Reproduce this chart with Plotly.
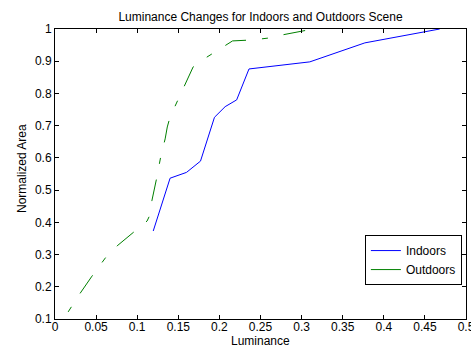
import plotly.graph_objects as go

# Indoors series
indoor_x = [0.1195, 0.140, 0.160, 0.177, 0.194, 0.207, 0.221, 0.236, 0.310, 0.377, 0.468]
indoor_y = [0.373, 0.537, 0.555, 0.590, 0.726, 0.759, 0.780, 0.876, 0.898, 0.957, 1.0]

# Outdoors series
outdoor_x = [0.016, 0.029, 0.045, 0.062, 0.0756, 0.0976, 0.112, 0.1146, 0.118, 0.124, 0.129,
             0.134, 0.1366, 0.140, 0.152, 0.160, 0.168, 0.1725, 0.198, 0.216, 0.240, 0.260,
             0.269, 0.288, 0.298, 0.314]
outdoor_y = [0.122, 0.174, 0.233, 0.292, 0.327, 0.372, 0.404, 0.418, 0.469, 0.541, 0.609,
             0.659, 0.696, 0.727, 0.792, 0.836, 0.882, 0.893, 0.933, 0.963, 0.966, 0.972,
             0.978, 0.987, 0.994, 1.0]

x_ticks = [0, 0.05, 0.1, 0.15, 0.2, 0.25, 0.3, 0.35, 0.4, 0.45, 0.5]
x_tick_labels = ["0", "0.05", "0.1", "0.15", "0.2", "0.25", "0.3", "0.35", "0.4", "0.45", "0.5"]
y_ticks = [0.1, 0.2, 0.3, 0.4, 0.5, 0.6, 0.7, 0.8, 0.9, 1.0]
y_tick_labels = ["0.1", "0.2", "0.3", "0.4", "0.5", "0.6", "0.7", "0.8", "0.9", "1"]

FONT = "Liberation Sans, Arial, sans-serif"
BLUE = "#0000FF"
GREEN = "#008000"

fig = go.Figure()
fig.add_trace(go.Scatter(x=indoor_x, y=indoor_y, mode="lines", name="Indoors",
                         line=dict(color=BLUE, width=1)))
fig.add_trace(go.Scatter(x=outdoor_x, y=outdoor_y, mode="lines", name="Outdoors",
                         showlegend=False,
                         line=dict(color=GREEN, width=1, dash="6px,16px,22px,16px")))
# legend entry for Outdoors (solid sample as in reference)
fig.add_trace(go.Scatter(x=[None], y=[None], mode="lines", name="Outdoors",
                         line=dict(color=GREEN, width=1)))

axis_common = dict(
    showgrid=False, zeroline=False, showline=True, linecolor="black", linewidth=1,
    mirror="ticks", ticks="inside", ticklen=4, tickcolor="black", tickwidth=1,
    tickfont=dict(family=FONT, size=12, color="black"), automargin=False,
    ticklabeloverflow="allow",
)

fig.update_layout(
    width=471, height=347,
    margin=dict(l=55, r=5, t=29, b=28),
    paper_bgcolor="white", plot_bgcolor="white",
    font=dict(family=FONT, size=12, color="black"),
    title=dict(text="Luminance Changes for Indoors and Outdoors Scene",
               x=(260.5 / 471), xanchor="center", y=1 - 16.5 / 347, yanchor="middle",
               font=dict(family=FONT, size=12, color="black")),
    xaxis=dict(range=[0, 0.5], tickvals=x_ticks, ticktext=x_tick_labels,
               ticklabelstandoff=-3, **axis_common),
    yaxis=dict(range=[0.1, 1.0], tickvals=y_ticks, ticktext=y_tick_labels, **axis_common),
    legend=dict(x=0.99, xanchor="right", y=0.117, yanchor="bottom",
                bgcolor="white", bordercolor="black", borderwidth=1,
                font=dict(family=FONT, size=12, color="black"),
                tracegroupgap=0),
    showlegend=True,
    annotations=[
        dict(text="Luminance", xref="paper", yref="paper", x=0.5, y=-21.5 / 290,
             xanchor="center", yanchor="middle", showarrow=False,
             font=dict(family=FONT, size=12, color="black")),
        dict(text="Normalized Area", xref="paper", yref="paper", x=-33 / 411, y=150 / 290,
             xanchor="center", yanchor="middle", textangle=-90, showarrow=False,
             font=dict(family=FONT, size=12, color="black")),
    ],
)

fig.write_html("out.html", config={"displayModeBar": False},
               post_script="document.body.style.margin='0px';document.body.style.overflow='hidden';")
